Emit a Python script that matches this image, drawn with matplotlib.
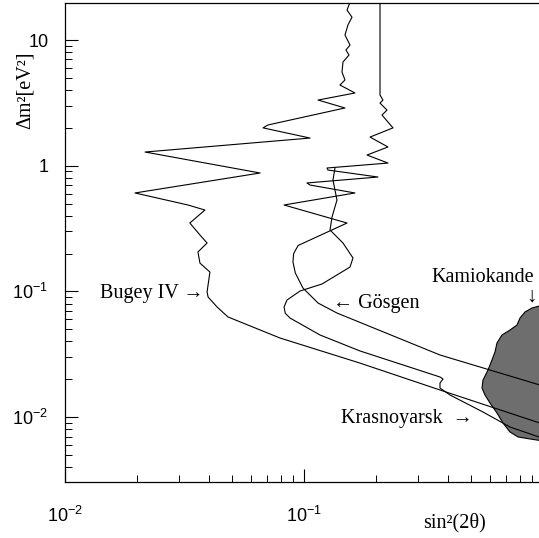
import numpy as np
import matplotlib
matplotlib.use("Agg")
import matplotlib.pyplot as plt

plt.rcParams['font.family'] = ['Liberation Serif', 'DejaVu Serif']
plt.rcParams['mathtext.fontset'] = 'custom'
plt.rcParams['mathtext.rm'] = 'Liberation Sans'
plt.rcParams['mathtext.it'] = 'Liberation Sans'

# exclusion contours, sin^2(2theta) vs dm^2 [eV^2]
bugey_x = [0.1558, 0.1514, 0.1588, 0.1528, 0.1484, 0.1558, 0.1498, 0.1543, 0.1456, 0.1442,
           0.1484, 0.1414, 0.1634, 0.1145, 0.1484, 0.0707, 0.0674, 0.106, 0.02162, 0.0655,
           0.01963, 0.0327, 0.0385, 0.0333, 0.0367, 0.0393, 0.036, 0.0367, 0.0404, 0.0393,
           0.0397, 0.0433, 0.0481, 0.0793, 0.1715, 0.3707, 1.0]
bugey_y = [20, 17.3, 15.2, 13.2, 10.96, 9.12, 8.33, 7.6, 6.68, 5.56,
           4.81, 4.385, 3.79, 3.33, 2.88, 2.11, 2.0, 1.66, 1.285, 0.875,
           0.607, 0.487, 0.444, 0.35, 0.281, 0.2427, 0.2058, 0.168, 0.1426, 0.0989,
           0.0902, 0.0751, 0.0626, 0.0426, 0.0269, 0.01643, 0.0088]

goesgen_x = [0.208, 0.208, 0.214, 0.208, 0.2225, 0.212, 0.2357, 0.1889, 0.2246, 0.1835,
             0.2246, 0.1248, 0.126, 0.204, 0.1029, 0.106, 0.1634, 0.0825, 0.1514, 0.0945,
             0.0905, 0.0899, 0.092, 0.099, 0.1145, 0.1374, 0.3707, 1.0]
goesgen_y = [20, 3.65, 3.33, 3.15, 2.77, 2.53, 2.0, 1.69, 1.41, 1.216,
             1.05, 0.959, 0.924, 0.813, 0.729, 0.702, 0.607, 0.487, 0.35, 0.232,
             0.2, 0.1713, 0.14, 0.1064, 0.0808, 0.0673, 0.0312, 0.0177]

krasn_x = [0.1348, 0.1322, 0.1374, 0.131, 0.1285, 0.1456, 0.1603, 0.1558, 0.1189, 0.0962,
           0.0849, 0.0825, 0.0835, 0.0874, 0.1167, 0.1715, 0.3707, 0.3816, 0.3707, 0.3707,
           0.4083, 0.561, 0.7278, 0.962, 1.0]
krasn_y = [0.959, 0.7696, 0.5335, 0.3906, 0.308, 0.2427, 0.1844, 0.1563, 0.1145, 0.1007,
           0.0854, 0.0751, 0.067, 0.0614, 0.045, 0.0336, 0.02085, 0.0201, 0.01867, 0.01703,
           0.01499, 0.01098, 0.00834, 0.00695, 0.00682]

# Kamiokande allowed region
kamio_x = [1.0, 0.8995, 0.8409, 0.8013, 0.7783, 0.7278, 0.6738, 0.642, 0.6298, 0.6118,
           0.5888, 0.561, 0.5557, 0.5719, 0.6001, 0.642, 0.6802, 0.7278, 0.786, 0.8822, 1.0]
kamio_y = [0.0779, 0.0738, 0.0686, 0.0614, 0.054, 0.0493, 0.045, 0.0389, 0.033, 0.0285,
           0.0237, 0.0197, 0.01703, 0.01499, 0.01295, 0.01078, 0.00897, 0.00761, 0.00695, 0.0067,
           0.00646]

fig = plt.figure(figsize=(5.39, 5.38), dpi=100)
ax = fig.add_axes([0.1206, 0.1041, 0.8868, 0.8903])

ax.fill(kamio_x, kamio_y, facecolor='#6e6e6e', edgecolor='black', linewidth=0.8, zorder=1)
for xs, ys in [(bugey_x, bugey_y), (goesgen_x, goesgen_y), (krasn_x, krasn_y)]:
    ax.plot(xs, ys, color='black', linewidth=0.8, zorder=2)

ax.set_xscale('log')
ax.set_yscale('log')
ax.set_xlim(0.01, 1.0)
ax.set_ylim(0.003046, 19.7)

ax.set_xticks([0.01, 0.1, 1.0])
ax.set_xticklabels(['$10^{-2}$', '$10^{-1}$', ''])
ax.set_yticks([0.01, 0.1, 1, 10])
ax.set_yticklabels(['$10^{-2}$', '$10^{-1}$', '1', '10'])
ax.tick_params(which='major', direction='in', length=9.5, width=0.8, labelsize=13)
ax.tick_params(which='minor', direction='in', length=5, width=0.7)
ax.tick_params(axis='x', which='major', pad=17)
ax.tick_params(axis='y', which='major', pad=12)
for lab in ax.get_xticklabels() + ax.get_yticklabels():
    lab.set_family(['Liberation Sans', 'DejaVu Sans'])
for sp in ax.spines.values():
    sp.set_linewidth(0.9)

# labels on the curves
fs = 14.5
ax.text(0.0378, 0.0971, 'Bugey IV →', ha='right', va='center', fontsize=fs)
ax.text(0.1322, 0.0808, '← Gösgen', ha='left', va='center', fontsize=fs)
ax.text(0.5095, 0.00966, 'Krasnoyarsk  →', ha='right', va='center', fontsize=fs)
ax.text(0.561, 0.1302, 'Kamiokande', ha='center', va='center', fontsize=fs)
ax.text(0.891, 0.0902, '↓', ha='center', va='center', fontsize=15)

fig.text(25 / 539, 1 - 90 / 538, 'Δm²[eV²]', rotation=90, ha='center', va='center', fontsize=fs)
fig.text(455 / 539, 1 - 523 / 538, 'sin²(2θ)', ha='center', va='center', fontsize=fs)

fig.savefig('out.png', dpi=100)
